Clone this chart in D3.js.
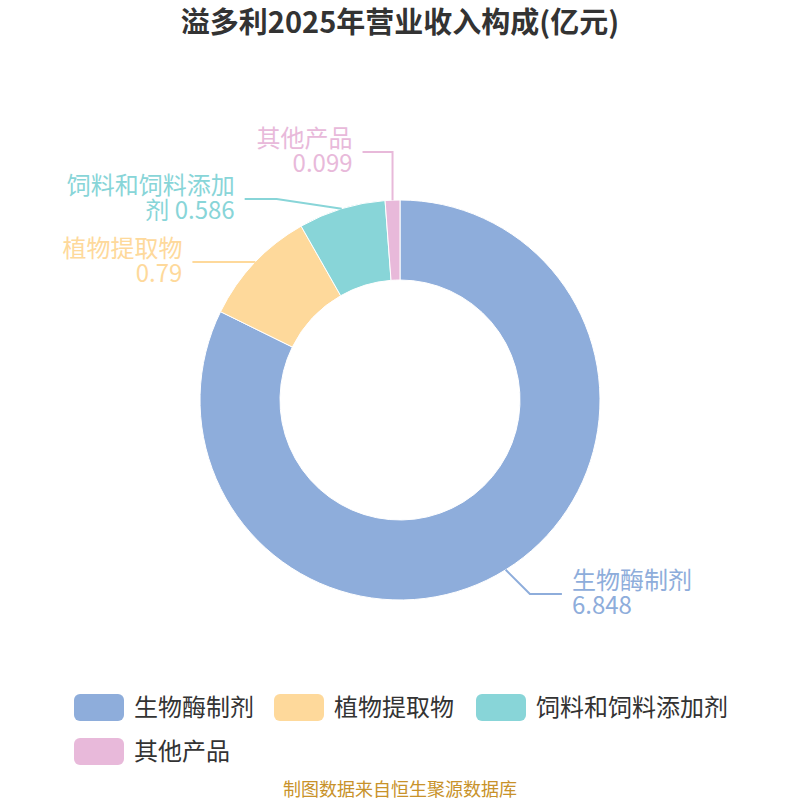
<!DOCTYPE html>
<html>
<head>
<meta charset="utf-8">
<script src="https://cdn.jsdelivr.net/npm/d3@7"></script>
<style>
  body { margin: 0; background: #fff; }
  svg { display: block; font-family: "Noto Sans CJK SC", "Noto Sans", sans-serif; }
</style>
</head>
<body>
<div id="chart-area"></div>
<script>
/* Data */
const categories = ['生物酶制剂', '植物提取物', '饲料和饲料添加剂', '其他产品'];
const values     = [6.848, 0.79, 0.586, 0.099];
const labelLines = [['生物酶制剂', '6.848'], ['植物提取物', '0.79'], ['饲料和饲料添加', '剂 0.586'], ['其他产品', '0.099']];
const colors     = ['#8eaddb', '#fed99b', '#88d5d8', '#e8b9da'];

/* Label line elbows (layout only) */
const labelLayout = [
    { ey: 594, len2: 32, dx: null },
    { ey: 262, len2: 62, dx: 0 },
    { ey: 199, len2: 32, dx: -65 },
    { ey: 152, len2: 30, dx: 0 }
];

/* SVG */
const width = 800, height = 800;
const cx = 400, cy = 400, outerR = 200, innerR = 120;

const svg = d3.select('#chart-area')
    .append('svg')
    .attr('width', width)
    .attr('height', height);

/* Title */
svg.append('text')
    .attr('x', width / 2).attr('y', 33)
    .attr('text-anchor', 'middle')
    .attr('font-size', '29px').attr('font-weight', 'bold')
    .attr('fill', '#333')
    .text('溢多利2025年营业收入构成(亿元)');

const data = categories.map((c, i) => ({ name: c, value: values[i], i: i }));

const pie = d3.pie().sort(null).value(d => d.value);
const arcs = pie(data);

const arc = d3.arc().innerRadius(innerR).outerRadius(outerR);

const g = svg.append('g').attr('transform', `translate(${cx},${cy})`);

/* Slices */
g.selectAll('path.slice')
    .data(arcs)
    .enter().append('path')
    .attr('class', 'slice')
    .attr('d', arc)
    .attr('fill', d => colors[d.data.i])
    .attr('stroke', '#fff')
    .attr('stroke-width', 1);

/* Labels */
arcs.forEach(d => {
    const mid = (d.startAngle + d.endAngle) / 2;
    const ax = outerR * Math.sin(mid), ay = -outerR * Math.cos(mid);
    const lay = labelLayout[d.data.i];
    const right = Math.sin(mid) > 0;
    const ey = lay.ey - cy;
    const ex = right ? ax + Math.abs(ey - ay) : ax + lay.dx;
    const tx = right ? ex + lay.len2 : ex - lay.len2;

    g.append('polyline')
        .attr('points', [[ax, ay], [ex, ey], [tx, ey]].map(p => p.join(',')).join(' '))
        .attr('fill', 'none')
        .attr('stroke', colors[d.data.i])
        .attr('stroke-width', 2);

    const t = g.append('text')
        .attr('text-anchor', right ? 'start' : 'end')
        .attr('font-size', '24px')
        .attr('fill', colors[d.data.i]);
    labelLines[d.data.i].forEach((line, k) => {
        t.append('tspan')
            .attr('x', right ? tx + 10 : tx - 10)
            .attr('y', ey - 5 + k * 25)
            .text(line);
    });
});

/* Legend */
const legendItems = [
    { i: 0, x: 74,  y: 694 },
    { i: 1, x: 274, y: 694 },
    { i: 2, x: 476, y: 694 },
    { i: 3, x: 74,  y: 738 }
];
const legend = svg.append('g');
legendItems.forEach(li => {
    legend.append('rect')
        .attr('x', li.x).attr('y', li.y)
        .attr('width', 50).attr('height', 27)
        .attr('rx', 6).attr('ry', 6)
        .attr('fill', colors[li.i]);
    legend.append('text')
        .attr('x', li.x + 60).attr('y', li.y + 22)
        .attr('font-size', '24px')
        .attr('fill', '#333')
        .text(categories[li.i]);
});

/* Source */
svg.append('text')
    .attr('x', width / 2).attr('y', 796)
    .attr('text-anchor', 'middle')
    .attr('font-size', '18px')
    .attr('fill', '#c8922a')
    .text('制图数据来自恒生聚源数据库');
</script>
</body>
</html>
